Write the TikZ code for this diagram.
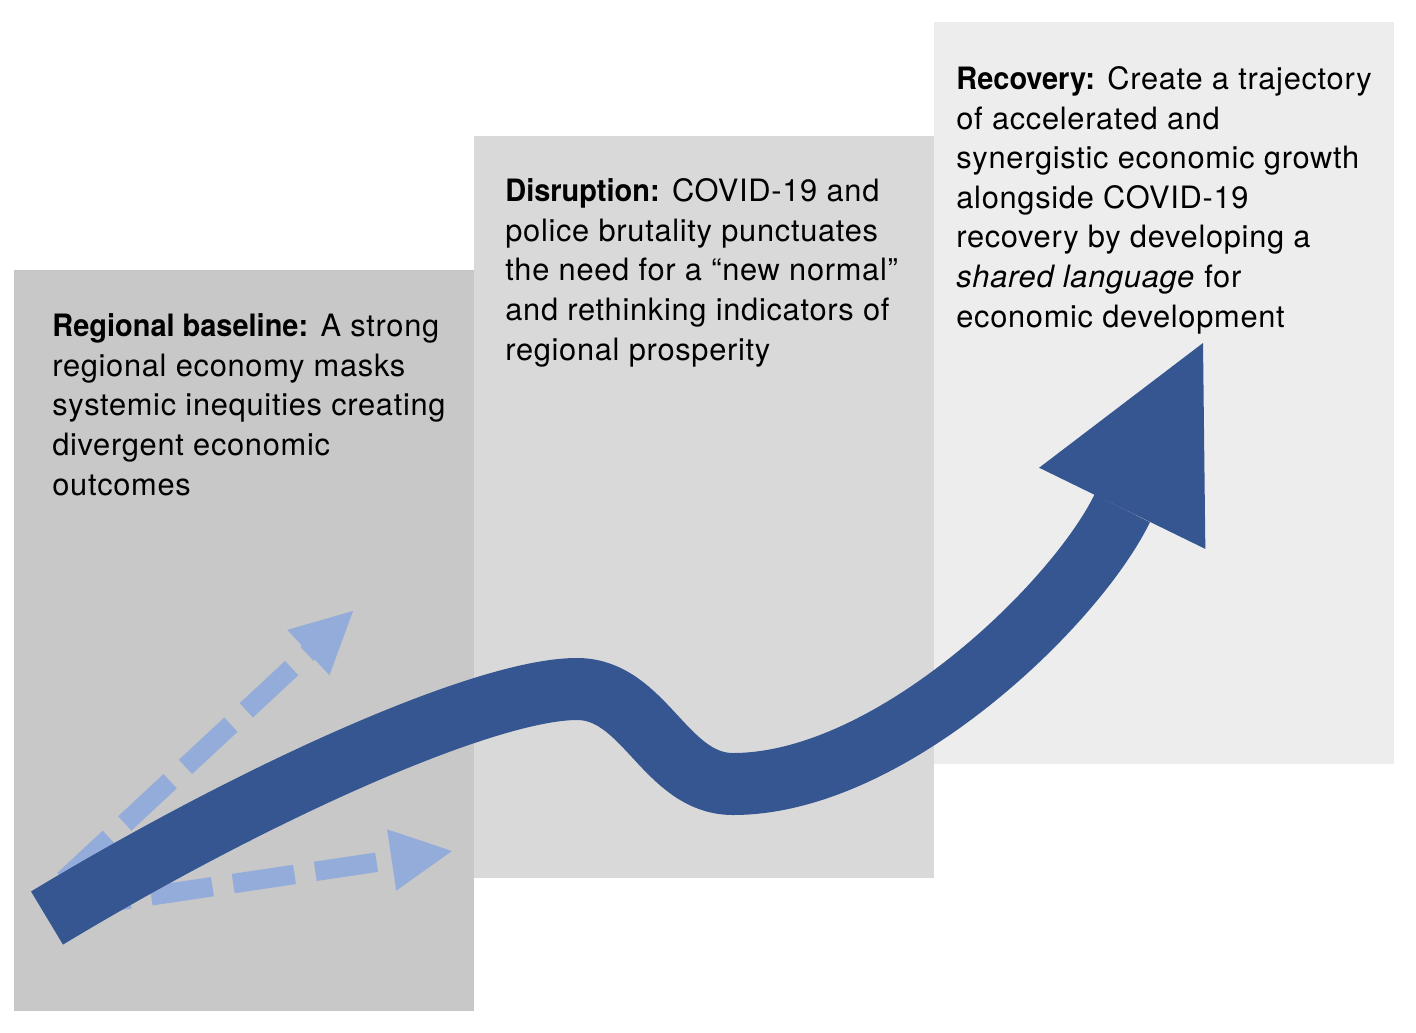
\documentclass[tikz,border=0pt]{standalone}
\usepackage{fontspec}
\setmainfont{TeX Gyre Heros}[LetterSpace=2.3,BoldFeatures={LetterSpace=0,FakeStretch=0.94}]
\usetikzlibrary{arrows.meta}
\definecolor{stageA}{HTML}{C8C8C8}
\definecolor{stageB}{HTML}{D9D9D9}
\definecolor{stageC}{HTML}{EDEDED}
\definecolor{trendblue}{HTML}{365692}
\definecolor{branchblue}{HTML}{94ACD9}

\begin{document}
\begin{tikzpicture}[x=0.5pt,y=-0.5pt,
    stage/.style={%
      fill=#1,
      draw=none,
    },
    caption/.style={%
      anchor=base west,
      inner sep=0pt,
      align=left,
      font=\fontsize{15.4}{19.8}\selectfont,
    },
    trend/.style={%
      draw=trendblue,
      line width=31pt,
      -{Triangle[length=92pt,width=92.5pt,line width=0pt]},
    },
    branch/.style={%
      draw=branchblue,
      line width=9.75pt,
      dash pattern=on 31pt off 10.5pt,
      -{Triangle[length=30.5pt,width=31pt,line width=0pt]},
    },
  ]

    \useasboundingbox (0,0) rectangle (1416,1032);

    % the three stages
    \fill [stage=stageA] (14,270) rectangle (474,1011);
    \fill [stage=stageB] (474,136) rectangle (934,878);
    \fill [stage=stageC] (934,22) rectangle (1394,764);

    \coordinate (upStart) at (64,880);
    \coordinate (upTip) at (353,611);
    \coordinate (flatStart) at (69,908);
    \coordinate (flatTip) at (452,851);
    \coordinate (trendStart) at (47,918);
    \coordinate (peak) at (577,689);
    \coordinate (trough) at (733,784);
    \coordinate (trendTip) at (1203,343);

    \draw [branch] (upStart) -- (upTip);
    \draw [branch] (flatStart) -- (flatTip);
    \draw [trend] (trendStart) .. controls (261,789) and (487,689) .. (peak)
      .. controls (645,689) and (665,784) .. (trough)
      .. controls (890,784) and (1075,605) .. (trendTip);

    % base anchor sits on the last line
    \node [caption] (baseline) at (52,495) {\textbf{Regional baseline:} A strong\\regional economy masks\\systemic inequities creating\\divergent economic\\outcomes};
    \node [caption] (disruption) at (505,360) {\textbf{Disruption:} COVID-19 and\\police brutality punctuates\\the need for a “new normal”\\and rethinking indicators of\\regional prosperity};
    \node [caption] (recovery) at (956,327) {\textbf{Recovery:} Create a trajectory\\of accelerated and\\synergistic economic growth\\alongside COVID-19\\recovery by developing a\\\textit{shared language} for\\economic development};
\end{tikzpicture}
\end{document}
